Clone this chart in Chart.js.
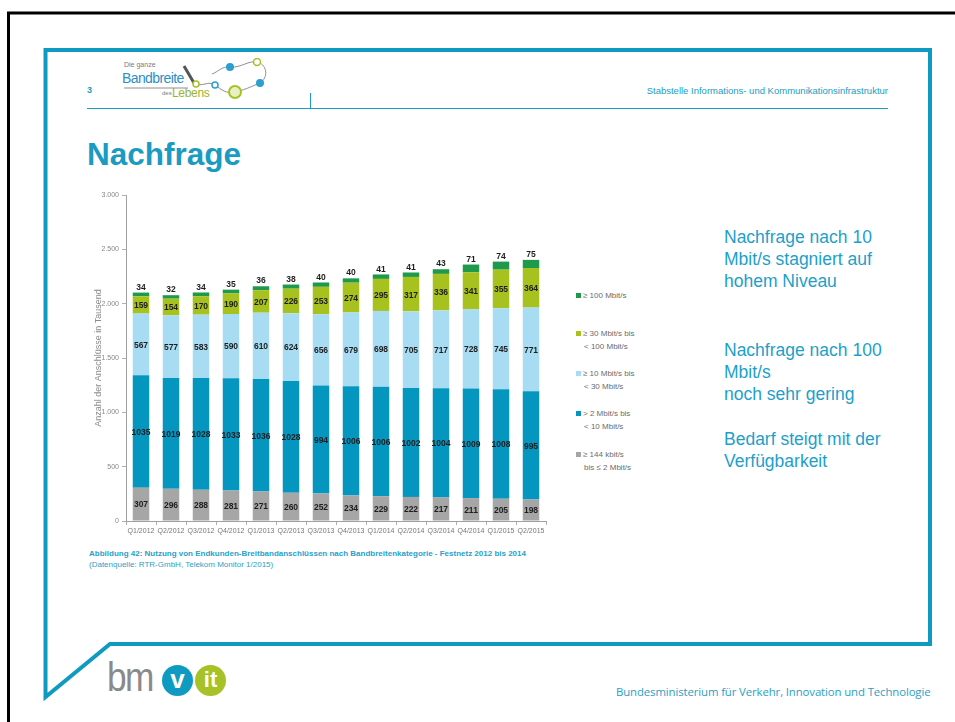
<!DOCTYPE html>
<html lang="de">
<head>
<meta charset="utf-8">
<title>Nachfrage</title>
<script src="https://cdn.jsdelivr.net/npm/chart.js@4.4.1/dist/chart.umd.min.js"></script>
<style>
    html, body {
        margin: 0;
        padding: 0;
        background: #ffffff;
    }
    .slide {
        position: relative;
        width: 955px;
        height: 722px;
        overflow: hidden;
        font-family: "Liberation Sans", Arial, sans-serif;
    }
    .frame {
        position: absolute;
        left: 0;
        top: 0;
    }
    .page-no {
        position: absolute;
        left: 87px;
        top: 85px;
        font-size: 9px;
        font-weight: bold;
        color: #1c9cc4;
    }
    .unit {
        position: absolute;
        right: 67px;
        top: 85px;
        font-size: 9.5px;
        color: #1c9cc4;
    }
    .title {
        position: absolute;
        left: 87px;
        top: 136px;
        font-size: 31.5px;
        font-weight: bold;
        color: #1a9bc1;
    }
    .chart-box {
        position: absolute;
        left: 84px;
        top: 185px;
        width: 466px;
        height: 358px;
    }
    .legend {
        position: absolute;
        left: 576px;
        top: 0;
        font-size: 8px;
        color: #6b6b6b;
        line-height: 13px;
    }
    .legend-item {
        position: absolute;
        left: 0;
        white-space: nowrap;
    }
    .legend-item i {
        display: inline-block;
        width: 5px;
        height: 5px;
        margin-right: 2px;
        vertical-align: 0;
    }
    .legend-item span {
        display: block;
        padding-left: 8px;
    }
    .caption {
        position: absolute;
        left: 89px;
        top: 548px;
        font-size: 8px;
        font-weight: bold;
        color: #2a9fc8;
        line-height: 11px;
    }
    .caption .src {
        font-weight: normal;
    }
    .notes {
        position: absolute;
        left: 724px;
        top: 0;
        font-size: 17.5px;
        color: #1d9fca;
        line-height: 22px;
    }
    .notes div {
        position: absolute;
        left: 0;
        white-space: nowrap;
    }
    .footer {
        position: absolute;
        left: 616px;
        top: 684px;
        font-size: 11.4px;
        color: #2aa0c6;
        font-family: "Open Sans", "Liberation Sans", sans-serif;
        letter-spacing: -0.12px;
    }
    .bmvit {
        position: absolute;
        left: 107px;
        top: 654px;
        height: 46px;
        white-space: nowrap;
    }
    .bmvit .bm {
        font-size: 41px;
        color: #8a8a8a;
        letter-spacing: -2px;
        display: inline-block;
        transform: scaleX(0.86);
        transform-origin: left center;
    }
    .dot {
        position: absolute;
        top: 11px;
        width: 31px;
        height: 31px;
        border-radius: 50%;
        color: #ffffff;
        font-weight: bold;
        font-size: 26px;
        line-height: 29px;
        text-align: center;
    }
    .dot.v { left: 55px; background: #0f9ac2; }
    .dot.it { left: 88px; background: #a6c226; font-size: 22px; }
    .brand {
        position: absolute;
        left: 122px;
        top: 58px;
        width: 150px;
        height: 44px;
    }
    .brand .die { position: absolute; left: 2px; top: 3px; font-size: 7px; color: #7a7a7a; }
    .brand .bb { position: absolute; left: 0; top: 12px; font-size: 14px; color: #2d8fc4; letter-spacing: -0.6px; }
    .brand .des { position: absolute; left: 40px; top: 32px; font-size: 6px; color: #7a7a7a; }
    .brand .leb { position: absolute; left: 50px; top: 28px; font-size: 12px; color: #9bb52a; letter-spacing: -0.3px; }
</style>
</head>
<body>
<div class="slide">
    <svg class="frame" width="955" height="722">
        <path d="M 8.5 722 L 8.5 13 L 955 13" fill="none" stroke="#000000" stroke-width="3"/>
        <path d="M 45.5 697 L 45.5 50 L 930 50 L 930 644 L 110 644 Z" fill="none" stroke="#0e9ac1" stroke-width="4" stroke-linejoin="miter"/>
        <path d="M 87 108.5 L 888 108.5" stroke="#1c9cc4" stroke-width="1.2"/>
        <path d="M 310.5 93 L 310.5 108" stroke="#1c9cc4" stroke-width="1"/>
    </svg>

    <div class="brand">
        <div class="die">Die ganze</div>
        <div class="bb">Bandbreite</div>
        <div class="des">des</div>
        <div class="leb">Lebens</div>
        <svg width="150" height="44" style="position:absolute;left:0;top:0">
            <path d="M 2 30 L 66 30 M 72 25 C 80 30, 86 22, 93 27 C 100 32, 104 36, 113 34 C 122 32, 126 30, 138 25 C 146 20, 146 8, 136 4 C 126 2, 120 10, 108 9 C 100 8, 96 14, 90 16" fill="none" stroke="#8f8f8f" stroke-width="1"/>
            <path d="M 62 8 L 72 25" stroke="#555555" stroke-width="3"/>
            <circle cx="74" cy="26" r="3" fill="#ffffff" stroke="#a6c226" stroke-width="1.5"/>
            <circle cx="93" cy="27" r="3" fill="#ffffff" stroke="#2d9fcf" stroke-width="1.5"/>
            <circle cx="113" cy="34" r="6" fill="#e8f0c0" stroke="#a6c226" stroke-width="2"/>
            <circle cx="108" cy="9" r="4" fill="#2d9fcf"/>
            <circle cx="135" cy="4" r="3.5" fill="#ffffff" stroke="#a6c226" stroke-width="1.5"/>
            <circle cx="138" cy="25" r="4" fill="#2d9fcf"/>
        </svg>
    </div>

    <div class="page-no">3</div>
    <div class="unit">Stabstelle Informations- und Kommunikationsinfrastruktur</div>
    <div class="title">Nachfrage</div>

    <div class="chart-box"><canvas id="demandChart"></canvas></div>
    <div class="legend" id="legend"></div>

    <div class="caption">
        Abbildung 42: Nutzung von Endkunden-Breitbandanschlüssen nach Bandbreitenkategorie - Festnetz 2012 bis 2014<br>
        <span class="src">(Datenquelle: RTR-GmbH, Telekom Monitor 1/2015)</span>
    </div>

    <div class="notes">
        <div style="top:226px">Nachfrage nach 10<br>Mbit/s stagniert auf<br>hohem Niveau</div>
        <div style="top:339px">Nachfrage nach 100<br>Mbit/s<br>noch sehr gering</div>
        <div style="top:428px">Bedarf steigt mit der<br>Verfügbarkeit</div>
    </div>

    <div class="bmvit">
        <span class="bm">bm</span>
        <div class="dot v">v</div>
        <div class="dot it">it</div>
    </div>
    <div class="footer">Bundesministerium für Verkehr, Innovation und Technologie</div>
</div>

<script>
// Data (Anschlüsse in Tausend)
const quarters = ['Q1/2012', 'Q2/2012', 'Q3/2012', 'Q4/2012', 'Q1/2013', 'Q2/2013', 'Q3/2013',
                  'Q4/2013', 'Q1/2014', 'Q2/2014', 'Q3/2014', 'Q4/2014', 'Q1/2015', 'Q2/2015'];

const upTo2Mbit    = [307, 296, 288, 281, 271, 260, 252, 234, 229, 222, 217, 211, 205, 198];
const upTo10Mbit   = [1035, 1019, 1028, 1033, 1036, 1028, 994, 1006, 1006, 1002, 1004, 1009, 1008, 995];
const upTo30Mbit   = [567, 577, 583, 590, 610, 624, 656, 679, 698, 705, 717, 728, 745, 771];
const upTo100Mbit  = [159, 154, 170, 190, 207, 226, 253, 274, 295, 317, 336, 341, 355, 364];
const from100Mbit  = [34, 32, 34, 35, 36, 38, 40, 40, 41, 41, 43, 71, 74, 75];

const yTicks = [0, 500, 1000, 1500, 2000, 2500, 3000];

// legend text, bottom segment first (same order as the stack)
const seriesNames = [
    ['≥ 144 kbit/s', 'bis ≤ 2 Mbit/s'],
    ['> 2 Mbit/s bis', '< 10 Mbit/s'],
    ['≥ 10 Mbit/s bis', '< 30 Mbit/s'],
    ['≥ 30 Mbit/s bis', '< 100 Mbit/s'],
    ['≥ 100 Mbit/s']
];
const seriesColors = ['#a6a6a6', '#0596c0', '#a8dcf3', '#a7c21f', '#1f9a4c'];

document.addEventListener('DOMContentLoaded', function() {
    const values = [upTo2Mbit, upTo10Mbit, upTo30Mbit, upTo100Mbit, from100Mbit];
    const font = '"Liberation Sans", Arial, sans-serif';
    Chart.defaults.font.family = font;

    function formatDe(v) {
        return String(v).replace(/\B(?=(\d{3})+(?!\d))/g, '.');
    }

    // values inside each segment, the top one sits above the bar
    const valueLabels = {
        id: 'valueLabels',
        afterDatasetsDraw(chart) {
            const ctx = chart.ctx;
            const last = chart.data.datasets.length - 1;
            ctx.save();
            ctx.font = 'bold 8.5px ' + font;
            ctx.fillStyle = '#1e1e1e';
            ctx.textAlign = 'center';
            chart.data.datasets.forEach((ds, i) => {
                chart.getDatasetMeta(i).data.forEach((bar, j) => {
                    const v = ds.data[j];
                    if (i === last) {
                        ctx.textBaseline = 'bottom';
                        ctx.fillText(v, bar.x, bar.y - 1);
                    } else {
                        ctx.textBaseline = 'middle';
                        ctx.fillText(v, bar.x, (bar.y + bar.base) / 2 + 1);
                    }
                });
            });
            ctx.restore();
        }
    };

    const ctx = document.getElementById('demandChart').getContext('2d');
    new Chart(ctx, {
        type: 'bar',
        data: {
            labels: quarters,
            datasets: values.map((data, i) => ({
                label: seriesNames[i].join(' '),
                data: data,
                backgroundColor: seriesColors[i],
                borderWidth: 0,
                barPercentage: 0.55,
                categoryPercentage: 1
            }))
        },
        options: {
            responsive: true,
            maintainAspectRatio: false,
            animation: false,
            layout: {
                padding: { top: 10, right: 4, bottom: 2, left: 0 }
            },
            plugins: {
                legend: { display: false },
                tooltip: { enabled: false }
            },
            scales: {
                x: {
                    stacked: true,
                    grid: {
                        drawOnChartArea: false,
                        drawTicks: true,
                        tickLength: 4,
                        color: '#b0b0b0'
                    },
                    border: { color: '#a0a0a0' },
                    ticks: {
                        color: '#777777',
                        font: { size: 7 },
                        maxRotation: 0,
                        autoSkip: false,
                        padding: 2
                    },
                    afterFit: function(scale) {
                        scale.height = 20;
                    }
                },
                y: {
                    stacked: true,
                    min: yTicks[0],
                    max: yTicks[yTicks.length - 1],
                    grid: {
                        drawOnChartArea: false,
                        drawTicks: true,
                        tickLength: 4,
                        color: '#b0b0b0'
                    },
                    border: { color: '#a0a0a0' },
                    ticks: {
                        stepSize: yTicks[1] - yTicks[0],
                        color: '#888888',
                        font: { size: 7 },
                        padding: 3,
                        callback: function(value) {
                            return formatDe(value);
                        }
                    },
                    title: {
                        display: true,
                        text: 'Anzahl der Anschlüsse in Tausend',
                        color: '#8a8a8a',
                        font: { size: 9 },
                        padding: { top: 9, bottom: 0 }
                    },
                    afterFit: function(scale) {
                        scale.width = 42;
                    }
                }
            }
        },
        plugins: [valueLabels]
    });

    // legend on the right, top series first
    const legend = document.getElementById('legend');
    const legendTops = [448, 407, 367, 327, 289];
    seriesNames.forEach((lines, i) => {
        const item = document.createElement('div');
        item.className = 'legend-item';
        item.style.top = legendTops[i] + 'px';
        let html = '<i style="background:' + seriesColors[i] + '"></i>' + lines[0];
        for (let k = 1; k < lines.length; k++) {
            html += '<span>' + lines[k] + '</span>';
        }
        item.innerHTML = html;
        legend.appendChild(item);
    });
});
</script>
</body>
</html>
